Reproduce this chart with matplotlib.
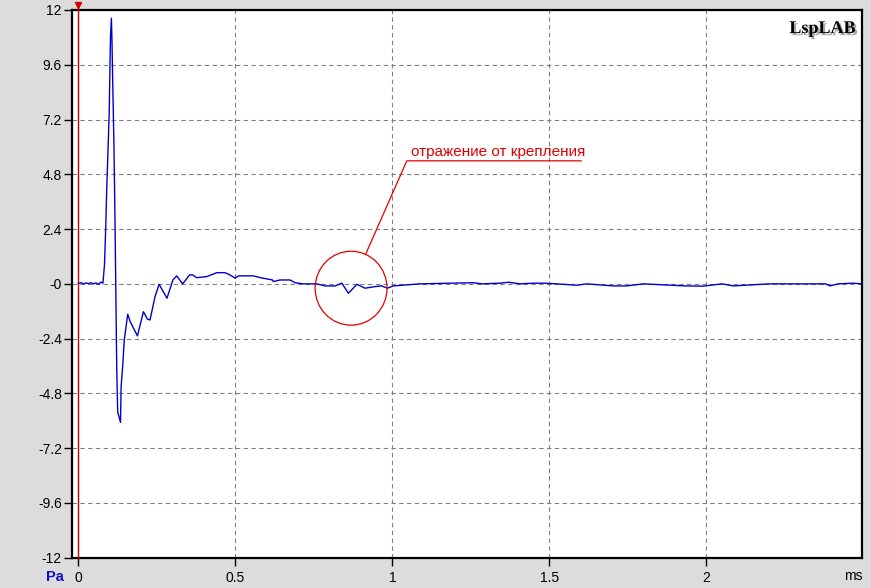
import matplotlib.pyplot as plt
import matplotlib.patheffects as pe
from matplotlib.patches import Ellipse

# impulse response (time in ms, pressure in Pa)
t_ms = [0.000, 0.008, 0.016, 0.024, 0.032, 0.040, 0.048, 0.056, 0.064, 0.072,
        0.078, 0.083, 0.087, 0.090, 0.094, 0.098, 0.100, 0.102, 0.105, 0.107,
        0.110, 0.113, 0.116, 0.119, 0.122, 0.125, 0.134, 0.136, 0.141, 0.146,
        0.157, 0.165, 0.188, 0.207, 0.220, 0.228, 0.244, 0.257, 0.282, 0.301,
        0.313, 0.332, 0.354, 0.364, 0.377, 0.409, 0.441, 0.467, 0.483, 0.499,
        0.510, 0.557, 0.580, 0.618, 0.621, 0.642, 0.674, 0.690, 0.716, 0.759,
        0.786, 0.818, 0.839, 0.860, 0.887, 0.913, 0.945, 0.966, 0.984, 1.003,
        1.088, 1.189, 1.258, 1.285, 1.343, 1.370, 1.407, 1.449, 1.481, 1.524,
        1.587, 1.619, 1.703, 1.746, 1.800, 1.932, 1.990, 2.050, 2.086, 2.200,
        2.380, 2.394, 2.420, 2.467, 2.495]
pa = [0.02, 0.05, 0.00, 0.04, 0.01, 0.05, 0.00, 0.04, -0.02, 0.08,
      0.03, 0.83, 2.51, 4.10, 5.79, 7.48, 9.16, 10.80, 11.64, 10.54,
      8.28, 6.16, 3.31, -0.12, -3.70, -5.60, -6.07, -4.50, -3.60, -2.46,
      -1.33, -1.66, -2.28, -1.22, -1.55, -1.58, -0.56, -0.02, -0.63, 0.17,
      0.35, 0.00, 0.39, 0.39, 0.27, 0.32, 0.49, 0.49, 0.39, 0.25,
      0.35, 0.35, 0.27, 0.17, 0.10, 0.17, 0.17, 0.05, 0.00, 0.00,
      -0.09, -0.09, 0.03, -0.41, -0.02, -0.19, -0.12, -0.09, -0.19, -0.09,
      0.00, 0.03, 0.05, 0.00, 0.03, 0.07, 0.00, 0.03, 0.03, 0.00,
      -0.06, 0.00, -0.09, -0.09, 0.00, -0.09, -0.10, 0.00, -0.09, 0.00,
      0.00, -0.09, 0.00, 0.03, 0.00]

y_ticks = [12, 9.6, 7.2, 4.8, 2.4, 0, -2.4, -4.8, -7.2, -9.6, -12]
y_labels = ["12", "9.6", "7.2", "4.8", "2.4", "-0", "-2.4", "-4.8", "-7.2", "-9.6", "-12"]
x_ticks = [0, 0.5, 1, 1.5, 2]
x_labels = ["0", "0.5", "1", "1.5", "2"]

# annotation: circle around the reflection and the leader line
circ_center = (0.8685, -0.19)
circ_w, circ_h = 0.229, 3.24
leader_t = [0.915, 1.046, 1.601]
leader_v = [1.30, 5.39, 5.39]
note = "отражение от крепления"

bg = "#DCDCDC"
plt.rcParams['font.family'] = ['Liberation Sans', 'DejaVu Sans']

fig = plt.figure(figsize=(8.71, 5.88), dpi=100, facecolor=bg)
ax = fig.add_axes([0.0823, 0.0515, 0.9070, 0.9315])
ax.set_facecolor("white")

ax.set_xlim(-0.0215, 2.495)
ax.set_ylim(-12, 12)
ax.set_xticks(x_ticks)
ax.set_xticklabels(x_labels)
ax.set_yticks(y_ticks)
ax.set_yticklabels(y_labels)
ax.tick_params(direction="out", length=6, width=1, colors="black",
               labelsize=10, pad=1)
ax.tick_params(axis="x", pad=3.5)

ax.grid(True, color="#808080", linestyle=(0, (4, 3)), linewidth=0.8)
ax.set_axisbelow(True)
for s in ax.spines.values():
    s.set_linewidth(1.6)
    s.set_color("black")

# red cursor at t=0
ax.axvline(0, ymin=0, ymax=1.006, color="#D00000", linewidth=1.0, clip_on=False, zorder=3)
ax.plot([0], [1.009], marker="v", color="#D00000", markersize=4,
        transform=ax.get_xaxis_transform(), clip_on=False, zorder=4)

ax.plot(t_ms, pa, color="#0000CC", linewidth=1.0, zorder=5)

ax.add_patch(Ellipse(circ_center, circ_w, circ_h, fill=False,
                     edgecolor="#E00000", linewidth=0.9, zorder=6))
ax.plot(leader_t, leader_v, color="#E00000", linewidth=0.9, zorder=6)
ax.text(leader_t[1] + 0.013, leader_v[1] + 0.22, note, color="#E00000",
        fontsize=11, ha="left", va="baseline", zorder=6)

# LspLAB logo with a soft shadow
ax.text(0.992, 0.966, "LspLAB", transform=ax.transAxes, ha="right", va="center",
        fontsize=13, fontweight="bold", family="Liberation Serif", color="black",
        path_effects=[pe.withSimplePatchShadow(offset=(1.5, -1.5), shadow_rgbFace="#909090",
                                               alpha=0.8)])

fig.text(0.0625, 0.018, "Pa", color="#1010C0", fontsize=10.5, fontweight="bold",
         ha="center", va="center")
fig.text(0.980, 0.020, "ms", color="black", fontsize=10, ha="center", va="center")

fig.savefig("out.png", dpi=100, facecolor=bg)
